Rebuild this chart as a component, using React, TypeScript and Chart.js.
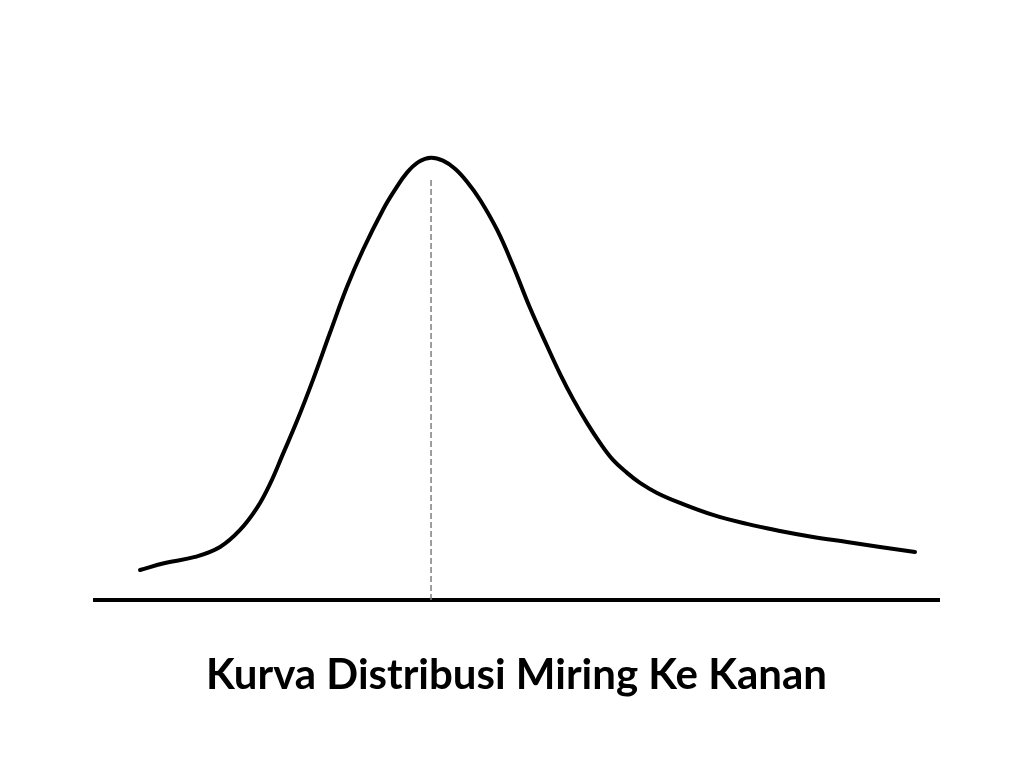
import React, { useEffect, useRef } from "react";
import { Chart, registerables } from "chart.js";

Chart.register(...registerables);

// Curve points (x: 0..100 along the axis, y: height above the axis)
const curveX = [5.55, 8.5, 12.04, 15.0, 17.36, 19.36, 20.9, 22.43, 24.09, 25.97, 27.98, 29.99, 31.88, 34.24, 35.66, 37.07, 38.49, 39.91, 41.32, 42.74, 44.16, 45.69, 47.7, 49.59, 51.59, 53.6, 55.14, 56.67, 58.32, 59.86, 61.39, 63.05, 64.58, 66.59, 69.3, 73.2, 77.21, 81.11, 85.01, 89.02, 92.92, 97.05];
const curveY = [6.77, 8.35, 9.71, 11.96, 15.8, 20.77, 26.19, 32.96, 40.41, 49.66, 60.27, 70.65, 79.01, 88.04, 92.55, 96.39, 98.87, 99.77, 99.1, 97.29, 94.36, 90.29, 83.52, 75.4, 65.91, 57.34, 51.02, 45.37, 39.95, 35.44, 31.6, 28.67, 26.41, 24.15, 21.9, 19.19, 17.16, 15.58, 14.22, 13.09, 11.96, 10.84];

// Mode marker (dashed vertical line)
const modeX = 39.91;
const modeTop = 95.26;

// Baseline axis extent
const axisX = [0, 100];

const titleText = "Kurva Distribusi Miring Ke Kanan";

export default function App() {
  const ref = useRef<HTMLCanvasElement | null>(null);

  useEffect(() => {
    if (!ref.current) return;
    const curve = curveX.map((x, i) => ({ x, y: curveY[i] }));
    const chart = new Chart(ref.current, {
      type: "line",
      data: {
        datasets: [
          {
            data: curve,
            borderColor: "#000000",
            borderWidth: 4,
            pointRadius: 0,
            tension: 0.4,
            borderJoinStyle: "round",
            borderCapStyle: "round",
            fill: false,
            clip: false,
          } as any,
          {
            data: [
              { x: modeX, y: 0 },
              { x: modeX, y: modeTop },
            ],
            borderColor: "#7f7f7f",
            borderWidth: 1.5,
            borderDash: [6, 3],
            pointRadius: 0,
            fill: false,
            clip: false,
          } as any,
          {
            data: axisX.map((x) => ({ x, y: 0 })),
            borderColor: "#000000",
            borderWidth: 4,
            borderCapStyle: "butt",
            pointRadius: 0,
            fill: false,
            clip: false,
          } as any,
        ],
      },
      options: {
        animation: false,
        responsive: false,
        layout: { padding: { left: 93, right: 84, top: 68, bottom: 67.6 } },
        scales: {
          x: { type: "linear", min: 0, max: 100, display: false },
          y: { type: "linear", min: 0, max: 120, display: false },
        },
        plugins: {
          legend: { display: false },
          tooltip: { enabled: false },
          title: {
            display: true,
            position: "bottom",
            text: titleText,
            color: "#000000",
            font: { family: "Lato", size: 42, weight: "bold", lineHeight: 1.2 },
            padding: { top: 50, bottom: 0 },
          },
        },
      },
    });
    return () => chart.destroy();
  }, []);

  return (
    <div style={{ position: "absolute", left: 0, top: 0, width: 1024, height: 768, background: "#ffffff" }}>
      <canvas ref={ref} width={1024} height={768} />
    </div>
  );
}
